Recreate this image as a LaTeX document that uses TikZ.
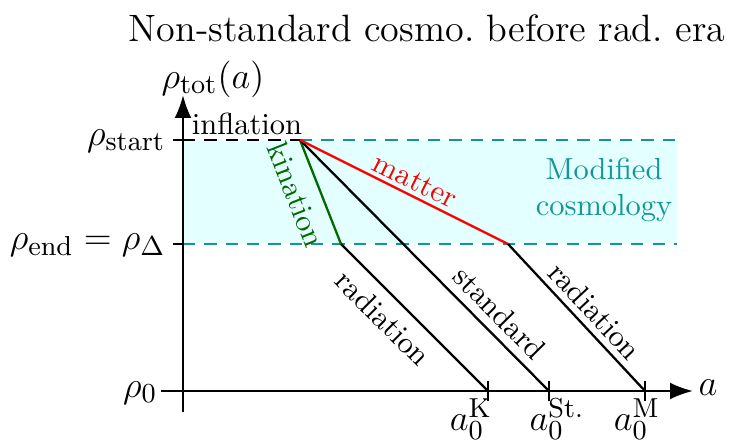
\documentclass[tikz,border=0pt]{standalone}
\usetikzlibrary{arrows.meta}
\definecolor{bandfill}{RGB}{228,255,255}
\definecolor{bandline}{RGB}{20,150,150}
\definecolor{kingreen}{RGB}{0,105,0}
\newcommand\mlab{\fontsize{13}{15}\selectfont}
\newcommand\tlab{\fontsize{12.5}{15}\selectfont}
\begin{document}
\begin{tikzpicture}[x=0.328pt,y=-0.328pt,
  axis/.style={line width=0.75pt,-{Latex[length=7.5pt,width=5.5pt]}},
  curve/.style={line width=0.75pt},
  tickmark/.style={line width=0.6pt},
  banddash/.style={bandline,line width=0.6pt,dash pattern=on 4pt off 3pt},
  rotlabel/.style={inner sep=0pt,anchor=center},
  mathlab/.style={font=\mlab,inner sep=1pt}]
\useasboundingbox (0,0) rectangle (729,446);
% shaded band
\fill[bandfill] (183,140) rectangle (677,244);
% key points
\coordinate (O) at (183,391);
\coordinate (ytop) at (183,95);
\coordinate (ybot) at (183,412);
\coordinate (xleft) at (161,391);
\coordinate (xright) at (693,391);
\coordinate (S) at (300,140);
\coordinate (K) at (341,244);
\coordinate (M) at (508,244);
\coordinate (aK) at (488,391);
\coordinate (aS) at (549,391);
\coordinate (aM) at (645,391);
\coordinate (Sl) at (183,140);
\coordinate (El) at (183,244);
\coordinate (Sr) at (677,140);
\coordinate (Er) at (677,244);
% dashed band borders
\draw[banddash] (S) -- (Sr);
\draw[banddash] (El) -- (Er);
\draw[line width=0.6pt,dash pattern=on 4pt off 3pt] (Sl) -- (S);
% axes
\draw[axis] (ybot) -- (ytop);
\draw[axis] (xleft) -- (xright);
% ticks
\draw[tickmark] ([xshift=-3.3pt]Sl) -- ([xshift=3.3pt]Sl);
\draw[tickmark] ([xshift=-3.3pt]El) -- (El);
\foreach \p in {aK,aS,aM}{\draw[tickmark] ([yshift=-3.3pt]\p) -- ([yshift=3.3pt]\p);}
% curves
\draw[curve,kingreen] (S) -- (K);
\draw[curve] (K) -- (aK);
\draw[curve] (S) -- (aS);
\draw[curve,red] (S) -- (M);
\draw[curve] (M) -- (aM);
% labels
\node[font=\tlab] (title) at (427,28) {Non-standard cosmo.\ before rad.\ era};
\node[mathlab] (ylab) at (213,79) {$\rho_{\mathrm{tot}}(a)$};
\node[mathlab] (xlab) at (708,388) {$a$};
\node[mathlab,anchor=east] (rs) at (169,141) {$\rho_{\mathrm{start}}$};
\node[mathlab,anchor=east] (re) at (169,245) {$\rho_{\mathrm{end}}=\rho_\Delta$};
\node[mathlab,anchor=east] (r0) at (161,393) {$\rho_0$};
\node[mathlab,anchor=north] (lK) at (471,395) {$a_0^{\mathrm{K}}$};
\node[mathlab,anchor=north] (lS) at (557,395) {$a_0^{\mathrm{St.}}$};
\node[mathlab,anchor=north] (lM) at (637,395) {$a_0^{\mathrm{M}}$};
\node[anchor=base,inner sep=0pt] (infl) at (247,135) {inflation};
\node[bandline,align=center] (mod) at (604,190) {Modified\\cosmology};
\node[rotlabel,red,rotate=-26.6] (mat) at (415,181) {matter};
\node[rotlabel,kingreen,rotate=-68.5] (kin) at (296,195) {kination};
\node[rotlabel,rotate=-45] (rad1) at (383,318) {radiation};
\node[rotlabel,rotate=-45.2] (std) at (500,313) {standard};
\node[rotlabel,rotate=-47] (rad2) at (595,311) {radiation};
\end{tikzpicture}
\end{document}
